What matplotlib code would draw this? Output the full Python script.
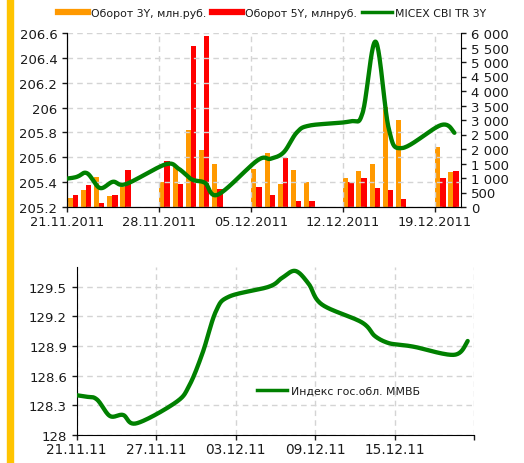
import datetime as dt

import matplotlib

matplotlib.use("Agg")
import matplotlib.dates as mdates
import matplotlib.pyplot as plt
import numpy as np
from matplotlib.lines import Line2D
from matplotlib.patches import Rectangle
from matplotlib.ticker import FuncFormatter, MultipleLocator

# trading days with turnover bars
bar_days = [
    "21.11.2011", "22.11.2011", "23.11.2011", "24.11.2011", "25.11.2011",
    "28.11.2011", "29.11.2011", "30.11.2011", "01.12.2011", "02.12.2011",
    "05.12.2011", "06.12.2011", "07.12.2011", "08.12.2011", "09.12.2011",
    "12.12.2011", "13.12.2011", "14.12.2011", "15.12.2011", "16.12.2011",
    "19.12.2011", "20.12.2011",
]
turnover_3y = [310, 573, 1020, 390, 688, 849, 1376, 2661, 1961, 1479,
               1319, 1846, 803, 1284, 872, 986, 1250, 1479, 3463, 3005,
               2076, 1216]
turnover_5y = [424, 768, 126, 424, 1284, 1583, 803, 5539, 5906, 619,
               700, 424, 1697, 218, 218, 872, 986, 654, 585, 287,
               986, 1250]

# index lines (first point is the previous trading day, off the left edge)
line_days = ["18.11.2011"] + bar_days
micex_cbi = [205.40, 205.436, 205.473, 205.353, 205.403, 205.385,
             205.543, 205.508, 205.422, 205.395, 205.30,
             205.575, 205.588, 205.64, 205.80, 205.856,
             205.888, 205.955, 206.53, 205.83, 205.674,
             205.86, 205.797]
mmvb_gov = [128.45, 128.389, 128.36, 128.19, 128.20, 128.115,
            128.33, 128.50, 128.83, 129.25, 129.40,
            129.50, 129.59, 129.66, 129.53, 129.32,
            129.14, 129.00, 128.93, 128.91, 128.89,
            128.81, 128.95]

top_ticks = ["21.11.2011", "28.11.2011", "05.12.2011", "12.12.2011", "19.12.2011"]
bottom_ticks = ["21.11.2011", "27.11.2011", "03.12.2011", "09.12.2011", "15.12.2011", "21.12.2011"]
x_start, x_end = "21.11.2011", "21.12.2011"

ORANGE = "#FF9900"
RED = "#FF0000"
GREEN = "#008000"
GRID = "#D4D4D4"
TEXT = "#1a1a1a"


def to_num(days):
    return np.array([mdates.date2num(dt.datetime.strptime(d, "%d.%m.%Y")) for d in days])


def catmull_rom(x, y, n=24):
    pts = np.column_stack([x, y])
    p = np.vstack([pts[0], pts, pts[-1]])
    t = np.linspace(0, 1, n, endpoint=False)[:, None]
    out = []
    for i in range(1, len(p) - 2):
        p0, p1, p2, p3 = p[i - 1], p[i], p[i + 1], p[i + 2]
        seg = 0.5 * (2 * p1 + (p2 - p0) * t
                     + (2 * p0 - 5 * p1 + 4 * p2 - p3) * t ** 2
                     + (-p0 + 3 * p1 - 3 * p2 + p3) * t ** 3)
        out.append(seg)
    out.append(pts[-1:])
    curve = np.vstack(out)
    return curve[:, 0], curve[:, 1]


def style_axis(ax):
    ax.tick_params(colors=TEXT, labelcolor=TEXT, length=3.5, width=1.0)
    ax.set_axisbelow(True)


def draw_top(fig):
    ax = fig.add_axes([67 / 524, 1 - 208 / 464, 394 / 524, 174 / 464])
    ax2 = ax.twinx()
    ax.set_zorder(ax2.get_zorder() + 1)
    ax.patch.set_visible(False)

    xb = to_num(bar_days)
    ax2.bar(xb + 0.04, turnover_3y, width=0.38, align="edge", color=ORANGE, linewidth=0)
    ax2.bar(xb + 0.42, turnover_5y, width=0.43, align="edge", color=RED, linewidth=0)
    ax2.set_ylim(0, 6000)
    ax2.yaxis.set_major_locator(MultipleLocator(500))
    ax2.yaxis.set_major_formatter(FuncFormatter(lambda v, _: f"{int(v):,}".replace(",", " ")))

    lx, ly = catmull_rom(to_num(line_days) + 0.5, np.array(micex_cbi))
    ax.plot(lx, ly, color=GREEN, linewidth=3.1, solid_capstyle="round", zorder=3)
    ax.set_ylim(205.2, 206.6)
    ax.yaxis.set_major_locator(MultipleLocator(0.2))
    ax.yaxis.set_major_formatter(FuncFormatter(lambda v, _: f"{round(v, 1):g}"))

    xs, xe = to_num([x_start, x_end])
    ax.set_xlim(xs, xe)
    ax.set_xticks(to_num(top_ticks))
    ax.xaxis.set_major_formatter(mdates.DateFormatter("%d.%m.%Y"))

    ax2.grid(False)
    ax.grid(True, color=GRID, linestyle=(0, (4, 3)), linewidth=1.0)
    for a in (ax, ax2):
        a.spines["top"].set_visible(False)
        style_axis(a)
    ax.spines["right"].set_visible(False)
    ax.tick_params(axis="y", labelsize=9.5)
    ax.tick_params(axis="x", labelsize=9.3, pad=2)
    ax2.tick_params(axis="y", labelsize=9.5)

    handles = [
        Line2D([], [], color=ORANGE, linewidth=4.5),
        Line2D([], [], color=RED, linewidth=4.5),
        Line2D([], [], color=GREEN, linewidth=2.5),
    ]
    labels = ["Оборот 3Y, млн.руб.", "Оборот 5Y, млнруб.", "MICEX CBI TR 3Y"]
    fig.legend(handles, labels, loc="center left", bbox_to_anchor=(58 / 524, 1 - 14 / 464),
               ncol=3, frameon=False, fontsize=7.8, handlelength=2.8, handletextpad=0.25,
               columnspacing=0.5, borderpad=0, borderaxespad=0, labelcolor=TEXT)


def draw_bottom(fig):
    ax = fig.add_axes([76.7 / 524, 1 - 435.7 / 464, 397.6 / 524, 167.7 / 464])
    lx, ly = catmull_rom(to_num(line_days) + 0.5, np.array(mmvb_gov))
    ax.plot(lx, ly, color=GREEN, linewidth=3.1, solid_capstyle="round", zorder=3)
    ax.set_ylim(128.0, 129.7)
    ax.set_yticks(np.arange(128.0, 129.51, 0.3))
    ax.yaxis.set_major_formatter(FuncFormatter(lambda v, _: f"{round(v, 1):g}"))

    xs, xe = to_num([x_start, x_end])
    ax.set_xlim(xs, xe)
    ticks = to_num(bottom_ticks)
    ax.set_xticks(ticks)
    ax.set_xticklabels([dt.datetime.strptime(d, "%d.%m.%Y").strftime("%d.%m.%y") for d in bottom_ticks[:-1]] + [""])
    ax.grid(True, color=GRID, linestyle=(0, (4, 3)), linewidth=1.0)
    ax.spines["top"].set_visible(False)
    ax.spines["right"].set_visible(False)
    style_axis(ax)
    ax.tick_params(axis="y", labelsize=9.5)
    ax.tick_params(axis="x", labelsize=9.8, pad=2)

    fig.legend([Line2D([], [], color=GREEN, linewidth=2.5)], ["Индекс гос.обл. ММВБ"],
               loc="center left", bbox_to_anchor=(257 / 524, 1 - 392 / 464), frameon=False,
               fontsize=7.8, handlelength=2.8, handletextpad=0.3, borderpad=0,
               borderaxespad=0, labelcolor=TEXT)


def main():
    plt.rcParams["font.family"] = ["DejaVu Sans"]
    fig = plt.figure(figsize=(5.24, 4.64), dpi=100)
    fig.patches.append(Rectangle((7 / 524, 0), 6 / 524, 1, transform=fig.transFigure,
                                 color="#FFC400", zorder=0))
    draw_top(fig)
    draw_bottom(fig)
    fig.savefig("out.png", dpi=100)


if __name__ == "__main__":
    main()
